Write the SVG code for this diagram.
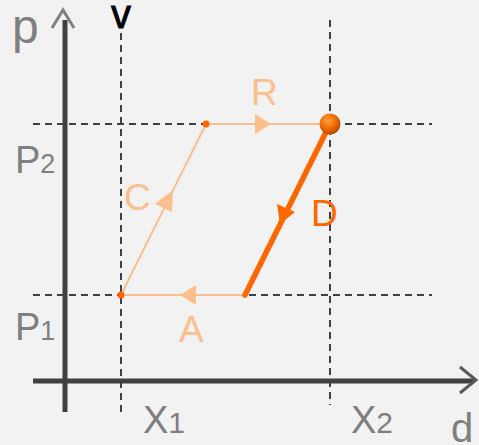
<svg xmlns="http://www.w3.org/2000/svg" width="479" height="445" viewBox="0 0 479 445">
<defs>
<style>
.lbl{font-family:"Liberation Sans","Open Sans",sans-serif;fill:#7f7f7f}
.guide{stroke:#404040;stroke-width:2;stroke-dasharray:7 5;fill:none}
.light{stroke:#fbbf8e;stroke-width:2;fill:none}
.lightfill{fill:#fbbf8e}
.olbl{font-family:"Liberation Sans","Open Sans",sans-serif;fill:#fbbf8e}
</style>
<radialGradient id="ball" cx="0.4" cy="0.35" r="0.65">
<stop offset="0" stop-color="#ffa040"/>
<stop offset="0.6" stop-color="#f06a00"/>
<stop offset="1" stop-color="#b84a00"/>
</radialGradient>
</defs>
<rect width="479" height="445" fill="#f2f2f2"/>
<g id="guides">
<line class="guide" x1="33" y1="124" x2="432" y2="124"/>
<line class="guide" x1="33" y1="295" x2="432" y2="295"/>
<line class="guide" x1="121" y1="33" x2="121" y2="413"/>
<line class="guide" x1="330" y1="20" x2="330" y2="405"/>
</g>
<g id="axes">
<line x1="65" y1="20" x2="65" y2="412" stroke="#404040" stroke-width="5"/>
<line x1="33" y1="381" x2="474" y2="381" stroke="#404040" stroke-width="5"/>
<polyline points="52,28 63,10 74,28" fill="none" stroke="#808080" stroke-width="3"/>
<polyline points="460,367 476,380 460,393" fill="none" stroke="#595959" stroke-width="3"/>
<text class="lbl" x="12" y="43" font-size="48">p</text>
<text class="lbl" x="451" y="442" font-size="40">d</text>
<text x="111" y="28" font-size="40" font-family="Liberation Sans,sans-serif" fill="#000" stroke="#000" stroke-width="0.8">v</text>
</g>
<g id="axis-labels">
<text class="lbl" x="15" y="173" font-size="38">P<tspan font-size="27">2</tspan></text>
<text class="lbl" x="15" y="340" font-size="38">P<tspan font-size="27">1</tspan></text>
<text class="lbl" x="143" y="433" font-size="38">X<tspan font-size="30">1</tspan></text>
<text class="lbl" x="351" y="433" font-size="38">X<tspan font-size="30">2</tspan></text>
</g>
<g id="connectors">
<g id="edge-R">
<line class="light" x1="206" y1="124" x2="330" y2="124"/>
<polygon class="lightfill" points="255,114 271,124 255,134"/>
</g>
<g id="edge-A">
<line class="light" x1="245" y1="295" x2="121" y2="295"/>
<polygon class="lightfill" points="196,285 180,295 196,305"/>
</g>
<g id="edge-C">
<line class="light" x1="121" y1="295" x2="206" y2="124"/>
<polygon class="lightfill" points="173,190 155,204 172,212"/>
</g>
<g id="edge-D">
<line x1="330" y1="124" x2="245" y2="295" stroke="#ff6600" stroke-width="5.5" stroke-linecap="round"/>
<polygon fill="#ff6600" points="280,224 277,204 295,212"/>
</g>
</g>
<g id="node-topleft"><circle cx="206" cy="124" r="3.5" fill="#ff6600"/></g>
<g id="node-bottomleft"><circle cx="121" cy="295" r="3.5" fill="#ff6600"/></g>
<g id="node-ball"><circle cx="330" cy="124" r="10.5" fill="url(#ball)"/></g>
<g id="edge-labels">
<text class="olbl" x="251" y="105" font-size="37">R</text>
<text class="olbl" x="124" y="210" font-size="37">C</text>
<text class="olbl" x="179" y="342" font-size="37">A</text>
<text x="311" y="226" font-size="37" font-family="Liberation Sans,sans-serif" fill="#ff6600">D</text>
</g>
</svg>
